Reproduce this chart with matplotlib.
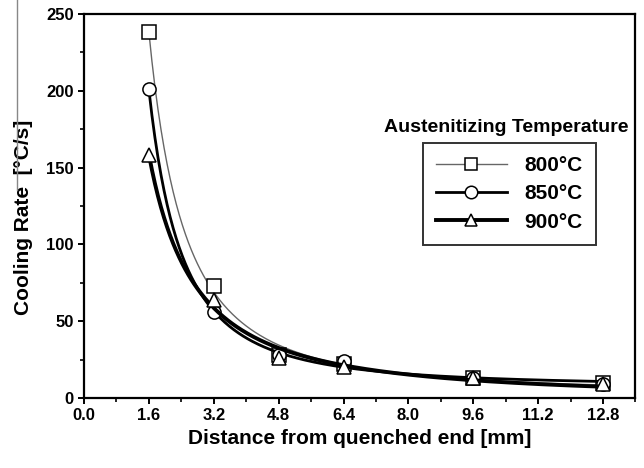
import numpy as np
import matplotlib
matplotlib.use('Agg')
import matplotlib.pyplot as plt
from matplotlib.lines import Line2D
from matplotlib.ticker import MultipleLocator, FormatStrFormatter

plt.rcParams['font.family'] = ['Liberation Sans', 'DejaVu Sans']
plt.rcParams['font.weight'] = 'bold'

# Data
distance = [1.6, 3.2, 4.8, 6.4, 9.6, 12.8]
rate_800 = [238, 73, 28, 22, 13, 10]
rate_850 = [201, 56, 28, 24, 13, 9]
rate_900 = [158, 64, 26, 20, 13, 9]
labels = ['800°C', '850°C', '900°C']
x_ticks = [0.0, 1.6, 3.2, 4.8, 6.4, 8.0, 9.6, 11.2, 12.8]


def fit_curve(x, y, xs):
    # fit y = c + a * x^b : grid on b, least squares for a and c
    x = np.asarray(x, float)
    y = np.asarray(y, float)
    best = None
    for b in np.linspace(-3.0, -0.5, 251):
        A = np.column_stack([x ** b, np.ones_like(x)])
        coef, res, _, _ = np.linalg.lstsq(A, y, rcond=None)
        err = np.sum((A @ coef - y) ** 2)
        if best is None or err < best[0]:
            best = (err, b, coef)
    _, b, (a, c) = best
    return c + a * xs ** b


fig = plt.figure(figsize=(6.44, 4.68), dpi=100)
ax = fig.add_axes([0.1304, 0.1496, 0.8564, 0.8205])

xs = np.linspace(1.6, 12.8, 300)
styles = [
    dict(color='#666666', lw=1.0, marker='s'),
    dict(color='black', lw=2.0, marker='o'),
    dict(color='black', lw=2.8, marker='^'),
]
handles = []
for y, st in zip([rate_800, rate_850, rate_900], styles):
    ax.plot(xs, fit_curve(distance, y, xs), color=st['color'], lw=st['lw'])
    ax.plot(distance, y, ls='none', marker=st['marker'], ms=9.5,
            mfc='white', mec='black', mew=1.1)
    handles.append(Line2D([], [], color=st['color'], lw=st['lw'],
                          marker=st['marker'], ms=9, mfc='white',
                          mec='black', mew=1.1))

ax.set_xlim(0, 13.6)
ax.set_ylim(0, 250)
ax.set_xticks(x_ticks)
ax.xaxis.set_major_formatter(FormatStrFormatter('%.1f'))
ax.xaxis.set_minor_locator(MultipleLocator(0.8))
ax.yaxis.set_major_locator(MultipleLocator(50))
ax.yaxis.set_minor_locator(MultipleLocator(25))
ax.tick_params(which='major', direction='out', length=4.5, width=1.4,
               labelsize=12, pad=3, top=False, right=False)
ax.tick_params(which='minor', direction='out', length=3, width=1.2,
               top=False, right=False)
for s in ax.spines.values():
    s.set_linewidth(1.6)

ax.set_xlabel('Distance from quenched end [mm]', fontsize=15,
              fontweight='bold')
ax.set_ylabel('Cooling Rate  [°C/s]', fontsize=15, fontweight='bold')
ax.xaxis.set_label_coords(0.5, -0.08)
ax.yaxis.set_label_coords(-0.093, 0.47)

leg = ax.legend(handles, labels, loc='upper left',
                bbox_to_anchor=(0.615, 0.664), borderaxespad=0,
                frameon=True, fancybox=False, edgecolor='black',
                fontsize=15, handlelength=3.4, borderpad=0.62,
                labelspacing=0.45, handletextpad=0.85)
leg.get_frame().set_linewidth(1.4)
for t in leg.get_texts():
    t.set_fontweight('bold')

ax.text(0.765, 0.704, 'Austenitizing Temperature', transform=ax.transAxes,
        ha='center', va='center', fontsize=14, fontweight='bold')

# scan artifact line on the left edge
fig.add_artist(Line2D([17 / 644, 17 / 644], [1.0, 1 - 190 / 468],
                      transform=fig.transFigure, color='#888888', lw=1))

fig.savefig('out.png', dpi=100)
